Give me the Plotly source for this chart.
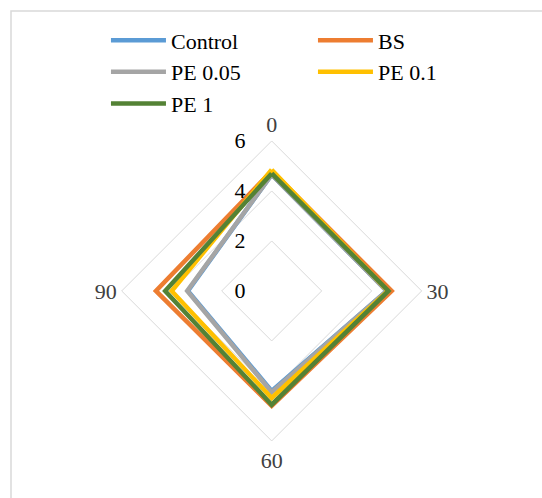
import plotly.graph_objects as go

# Angle categories (clockwise from the top) and the measured values per treatment
angles = ["0", "30", "60", "90"]

control = [4.65, 4.60, 4.00, 3.35]
bs = [4.80, 4.80, 4.60, 4.63]
pe_005 = [4.65, 4.60, 4.05, 3.38]
pe_01 = [4.85, 4.65, 4.28, 4.00]
pe_1 = [4.70, 4.67, 4.55, 4.26]

series = [
    ("Control", control, "#5B9BD5"),
    ("BS", bs, "#ED7D31"),
    ("PE 0.05", pe_005, "#A5A5A5"),
    ("PE 0.1", pe_01, "#FFC000"),
    ("PE 1", pe_1, "#548235"),
]

radial_ticks = [0, 2, 4, 6]

fig = go.Figure()
for name, vals, color in series:
    fig.add_trace(go.Scatterpolar(
        r=vals + vals[:1],
        theta=angles + angles[:1],
        mode="lines",
        name=name,
        line=dict(color=color, width=4.5),
    ))

serif = "'Liberation Serif', 'Times New Roman', Times, serif"

fig.update_layout(
    width=542,
    height=498,
    margin=dict(l=0, r=0, t=0, b=0),
    paper_bgcolor="white",
    plot_bgcolor="white",
    font=dict(family=serif, size=22, color="#262626"),
    showlegend=True,
    legend=dict(
        orientation="h",
        x=0.1955,
        y=0.961,
        xanchor="left",
        yanchor="top",
        entrywidth=137,
        entrywidthmode="pixels",
        font=dict(family=serif, size=22, color="#000000"),
        bgcolor="rgba(0,0,0,0)",
        tracegroupgap=0,
        itemwidth=55,
    ),
    polar=dict(
        domain=dict(x=[0.2245, 0.778], y=[0.1145, 0.717]),
        gridshape="linear",
        bgcolor="white",
        angularaxis=dict(
            direction="clockwise",
            rotation=90,
            showgrid=False,
            showline=True,
            linecolor="#d9d9d9",
            linewidth=1,
            ticks="",
            tickfont=dict(family=serif, size=22, color="#404040"),
        ),
        radialaxis=dict(
            range=[0, 6],
            tickvals=radial_ticks,
            ticktext=[str(t) for t in radial_ticks],
            angle=90,
            showline=False,
            showgrid=True,
            gridcolor="#d9d9d9",
            gridwidth=1,
            ticks="outside",
            ticklen=18,
            tickcolor="rgba(0,0,0,0)",
            side="counterclockwise",
            tickangle=90,
            tickfont=dict(family=serif, size=22, color="#000000"),
        ),
    ),
    shapes=[
        dict(
            type="rect",
            xref="paper",
            yref="paper",
            x0=11 / 542,
            x1=1.05,
            y0=-0.05,
            y1=1 - 11 / 498,
            line=dict(color="#d9d9d9", width=1.5),
            fillcolor="rgba(0,0,0,0)",
            layer="below",
        )
    ],
)

fig.write_html("out.html")
